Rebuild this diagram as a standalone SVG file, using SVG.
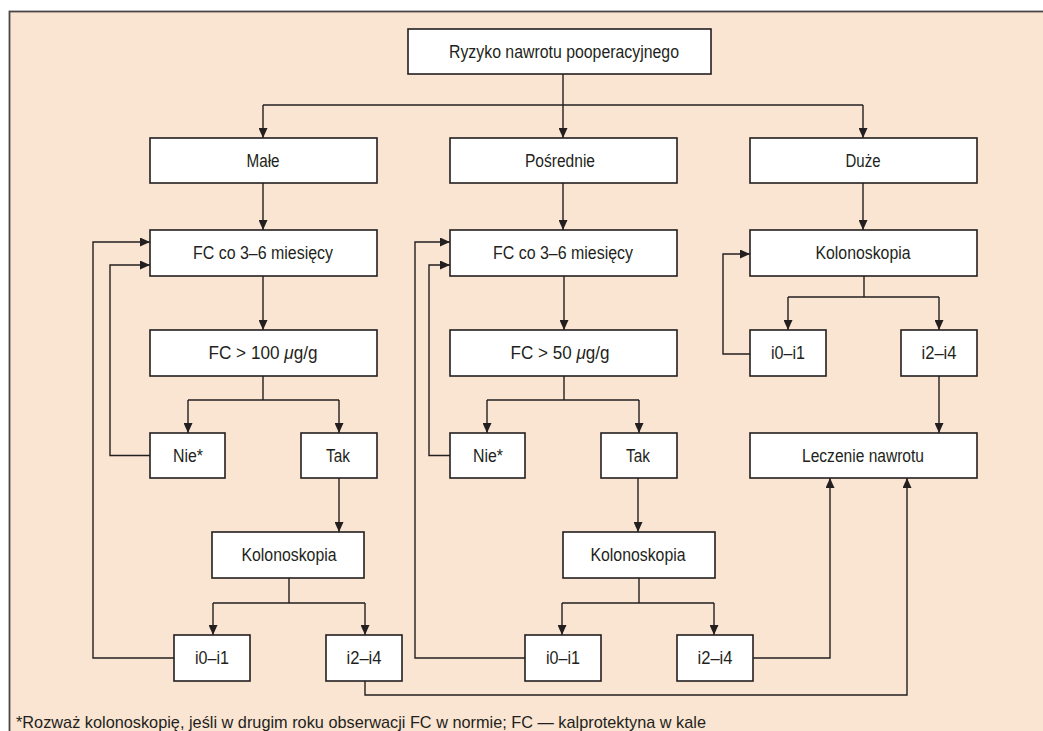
<svg xmlns="http://www.w3.org/2000/svg" width="1043" height="731" viewBox="0 0 1043 731">
<style>
.box{fill:#fff;stroke:#231f20;stroke-width:1.6}
.t{font-family:"Liberation Sans",Arial,sans-serif;font-size:17.5px;fill:#231f20;text-anchor:middle}
.c path{fill:none;stroke:#231f20;stroke-width:1.4}
.a{marker-end:url(#ah)}
</style>
<defs>
<marker id="ah" markerUnits="userSpaceOnUse" markerWidth="10" markerHeight="9" refX="10" refY="4.5" orient="auto">
<path d="M0,0 L10,4.5 L0,9 z" fill="#231f20"/>
</marker>
</defs>
<rect x="0" y="0" width="1043" height="731" fill="#fff"/>
<rect x="9.5" y="11.5" width="1045" height="730" fill="#fae5d2" stroke="#4a4746" stroke-width="1.8"/>

<g class="c">
<path class="a" d="M563,74 V138"/>
<path d="M263,105 H863"/>
<path class="a" d="M263,105 V138"/>
<path class="a" d="M863,105 V138"/>
<path class="a" d="M263,183 V230"/>
<path class="a" d="M263,276 V330"/>
<path d="M263,376 V400 M188,400 H339"/>
<path class="a" d="M188,400 V433"/>
<path class="a" d="M339,400 V433"/>
<path class="a" d="M150,455.5 H110 V265 H150"/>
<path class="a" d="M339,478 V532"/>
<path d="M289,578 V603 M213,603 H365"/>
<path class="a" d="M213,603 V635"/>
<path class="a" d="M365,603 V635"/>
<path class="a" d="M174,658 H93 V242 H150"/>
<path class="a" d="M365,681 V695 H907 V478"/>
<path class="a" d="M563,183 V230"/>
<path class="a" d="M564,276 V330"/>
<path d="M564,376 V400 M487,400 H639"/>
<path class="a" d="M487,400 V433"/>
<path class="a" d="M639,400 V433"/>
<path class="a" d="M450,455.5 H429 V265 H450"/>
<path class="a" d="M638,478 V532"/>
<path d="M639,578 V603 M562,603 H714"/>
<path class="a" d="M562,603 V635"/>
<path class="a" d="M714,603 V635"/>
<path class="a" d="M525,658 H415 V242 H450"/>
<path class="a" d="M753,658 H830 V478"/>
<path class="a" d="M863,183 V230"/>
<path d="M864,276 V297 M788,297 H939"/>
<path class="a" d="M788,297 V330"/>
<path class="a" d="M939,297 V330"/>
<path class="a" d="M750,354 H723 V254 H750"/>
<path class="a" d="M939,376 V433"/>
</g>

<g id="n-top"><rect class="box" x="408" y="29" width="303" height="45"/><text class="t" x="564" y="57.5" textLength="230" lengthAdjust="spacingAndGlyphs">Ryzyko nawrotu pooperacyjnego</text></g>
<g id="n-male"><rect class="box" x="150" y="138" width="227" height="45"/><text class="t" x="263" y="166.5" textLength="33" lengthAdjust="spacingAndGlyphs">Małe</text></g>
<g id="n-posrednie"><rect class="box" x="450" y="138" width="227" height="45"/><text class="t" x="560" y="166.5" textLength="70" lengthAdjust="spacingAndGlyphs">Pośrednie</text></g>
<g id="n-duze"><rect class="box" x="750" y="138" width="227" height="45"/><text class="t" x="863" y="166.5" textLength="35" lengthAdjust="spacingAndGlyphs">Duże</text></g>
<g id="n-fc-l"><rect class="box" x="150" y="230" width="227" height="46"/><text class="t" x="263" y="259" textLength="140" lengthAdjust="spacingAndGlyphs">FC co 3–6 miesięcy</text></g>
<g id="n-fc-m"><rect class="box" x="450" y="230" width="227" height="46"/><text class="t" x="563" y="259" textLength="140" lengthAdjust="spacingAndGlyphs">FC co 3–6 miesięcy</text></g>
<g id="n-kol-r"><rect class="box" x="750" y="230" width="227" height="46"/><text class="t" x="863" y="259" textLength="95" lengthAdjust="spacingAndGlyphs">Kolonoskopia</text></g>
<g id="n-fc100"><rect class="box" x="150" y="330" width="227" height="46"/><text class="t" x="263" y="359" textLength="109" lengthAdjust="spacingAndGlyphs">FC &gt; 100 <tspan font-style="italic">μ</tspan>g/g</text></g>
<g id="n-fc50"><rect class="box" x="450" y="330" width="227" height="46"/><text class="t" x="560" y="359" textLength="99" lengthAdjust="spacingAndGlyphs">FC &gt; 50 <tspan font-style="italic">μ</tspan>g/g</text></g>
<g id="n-i01-r"><rect class="box" x="750" y="330" width="76" height="46"/><text class="t" x="788" y="359" textLength="34" lengthAdjust="spacingAndGlyphs">i0–i1</text></g>
<g id="n-i24-r"><rect class="box" x="901" y="330" width="76" height="46"/><text class="t" x="939" y="359" textLength="35" lengthAdjust="spacingAndGlyphs">i2–i4</text></g>
<g id="n-nie-l"><rect class="box" x="150" y="433" width="75" height="45"/><text class="t" x="188" y="461.5" textLength="30" lengthAdjust="spacingAndGlyphs">Nie*</text></g>
<g id="n-tak-l"><rect class="box" x="301" y="433" width="76" height="45"/><text class="t" x="338" y="461.5" textLength="24" lengthAdjust="spacingAndGlyphs">Tak</text></g>
<g id="n-nie-m"><rect class="box" x="450" y="433" width="75" height="45"/><text class="t" x="488" y="461.5" textLength="30" lengthAdjust="spacingAndGlyphs">Nie*</text></g>
<g id="n-tak-m"><rect class="box" x="601" y="433" width="76" height="45"/><text class="t" x="638" y="461.5" textLength="24" lengthAdjust="spacingAndGlyphs">Tak</text></g>
<g id="n-leczenie"><rect class="box" x="750" y="433" width="227" height="45"/><text class="t" x="863" y="461.5" textLength="122" lengthAdjust="spacingAndGlyphs">Leczenie nawrotu</text></g>
<g id="n-kol-l"><rect class="box" x="212" y="532" width="152" height="46"/><text class="t" x="289" y="561" textLength="95" lengthAdjust="spacingAndGlyphs">Kolonoskopia</text></g>
<g id="n-kol-m"><rect class="box" x="563" y="532" width="152" height="46"/><text class="t" x="638" y="561" textLength="95" lengthAdjust="spacingAndGlyphs">Kolonoskopia</text></g>
<g id="n-i01-l"><rect class="box" x="174" y="635" width="76" height="46"/><text class="t" x="212" y="664" textLength="34" lengthAdjust="spacingAndGlyphs">i0–i1</text></g>
<g id="n-i24-l"><rect class="box" x="326" y="635" width="76" height="46"/><text class="t" x="364" y="664" textLength="35" lengthAdjust="spacingAndGlyphs">i2–i4</text></g>
<g id="n-i01-m"><rect class="box" x="525" y="635" width="76" height="46"/><text class="t" x="563" y="664" textLength="34" lengthAdjust="spacingAndGlyphs">i0–i1</text></g>
<g id="n-i24-m"><rect class="box" x="677" y="635" width="76" height="46"/><text class="t" x="715" y="664" textLength="35" lengthAdjust="spacingAndGlyphs">i2–i4</text></g>

<text x="16" y="728" font-family="Liberation Sans, Arial, sans-serif" font-size="17" fill="#231f20" textLength="690" lengthAdjust="spacingAndGlyphs">*Rozważ kolonoskopię, jeśli w drugim roku obserwacji FC w normie; FC — kalprotektyna w kale</text>
</svg>
